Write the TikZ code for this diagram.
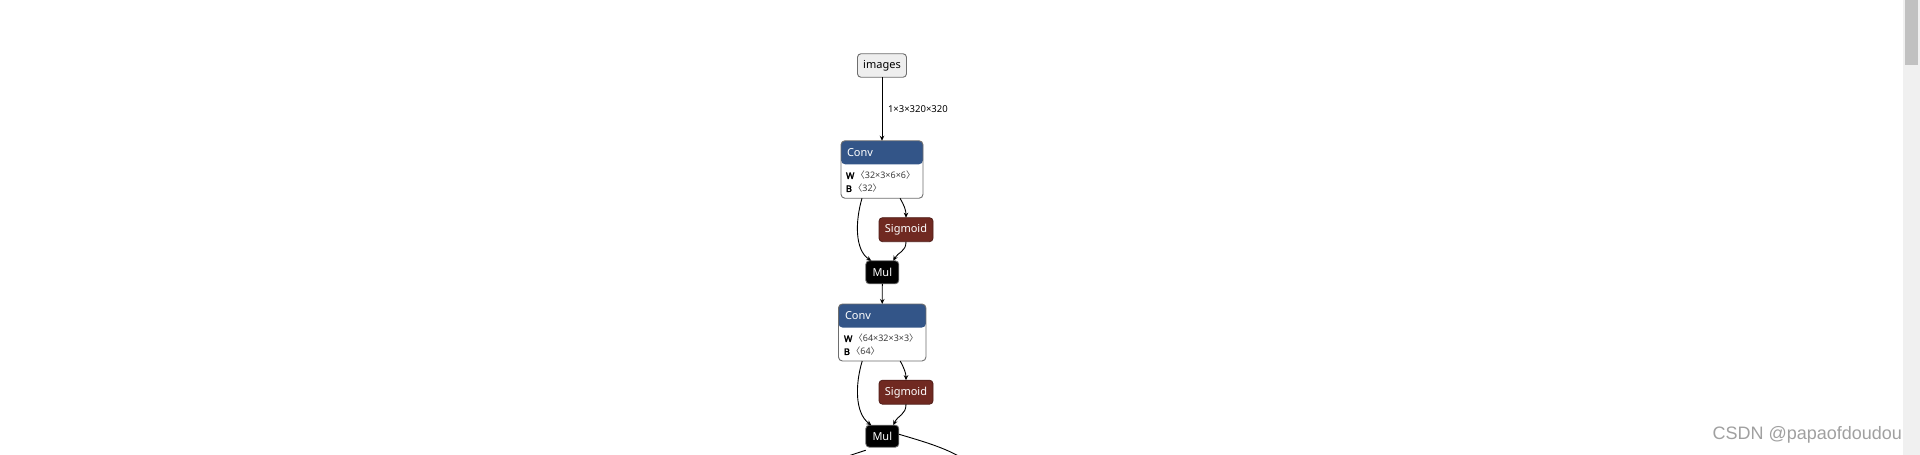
\documentclass[tikz,border=0pt]{standalone}
\usepackage{fontspec}
\setmainfont{Noto Sans}
\newfontfamily\cjkbr{Noto Sans CJK SC}
\newfontfamily\wmfont{Liberation Sans}
\newfontfamily\boldw{Noto Sans}[FakeBold=3]
\usetikzlibrary{arrows.meta}
\definecolor{headblue}{RGB}{51,85,136}
\definecolor{sigred}{RGB}{112,41,33}
\definecolor{sigborder}{RGB}{80,30,25}
\definecolor{boxgray}{RGB}{110,110,110}
\definecolor{valcol}{RGB}{60,60,60}
\definecolor{infill}{RGB}{238,238,238}
\definecolor{track}{RGB}{240,240,240}
\definecolor{thumb}{RGB}{193,193,193}
\definecolor{wmgray}{RGB}{160,160,160}
\tikzset{
  every node/.style={inner sep=0pt, outer sep=0pt},
  inbox/.style={draw=boxgray, line width=0.9pt, fill=infill, rounded corners=3.5pt, minimum width=49pt, minimum height=23.5pt, font=\fontsize{11}{13}\selectfont},
  convbox/.style={draw=boxgray, line width=0.9pt, fill=white, rounded corners=4pt,
    path picture={\fill[headblue] (path picture bounding box.north west) rectangle ([yshift=-23.5pt]path picture bounding box.north east);}},
  sigbox/.style={draw=sigborder, line width=0.8pt, fill=sigred, rounded corners=3.5pt, minimum width=54pt, minimum height=24pt, text=white, font=\fontsize{11}{13}\selectfont},
  mulbox/.style={draw=boxgray, line width=0.8pt, fill=black, rounded corners=3.5pt, minimum width=33pt, minimum height=23pt, text=white, font=\fontsize{11}{13}\selectfont},
  headtxt/.style={anchor=west, text=white, font=\fontsize{11}{13}\selectfont},
  attrtxt/.style={anchor=west, font=\fontsize{9}{11}\selectfont},
  elabel/.style={anchor=west, font=\fontsize{9.5}{11}\selectfont},
  edge/.style={line width=0.9pt, -{Stealth[length=5pt,width=4.5pt]}},
  plain/.style={line width=0.9pt},
}
\newcommand{\attrv}[1]{{\color{valcol}\cjkbr 〈}{\color{valcol}#1}{\color{valcol}\cjkbr 〉}}
\begin{document}
\begin{tikzpicture}[x=1pt,y=-1pt]
\clip (0,0) rectangle (1920,455);
\fill[white] (0,0) rectangle (1920,455);
% scrollbar
\fill[track] (1903,0) rectangle (1920,455);
\fill[thumb] (1905,0) rectangle (1918,65);

% images
\node[inbox] (img) at (882,65.5) {images};
\node[elabel] (lbl) at (888,109) {1×3×320×320};

% Conv 1
\node[convbox, minimum width=82pt, minimum height=57.5pt] (conv1) at (882,169.5) {};
\node[headtxt] (c1h) at (847,152.5) {Conv};
\node[attrtxt] (c1w) at (846,175.5) {{\boldw W}\,\attrv{32×3×6×6}};
\node[attrtxt] (c1b) at (846,188.5) {{\boldw B}\,\attrv{32}};
\node[sigbox] (sig1) at (906,229.7) {Sigmoid};
\node[mulbox] (mul1) at (882.3,272.3) {Mul};

% Conv 2
\node[convbox, minimum width=87.5pt, minimum height=57pt] (conv2) at (882.2,332.5) {};
\node[headtxt] (c2h) at (845,316) {Conv};
\node[attrtxt] (c2w) at (844,338.5) {{\boldw W}\,\attrv{64×32×3×3}};
\node[attrtxt] (c2b) at (844,351.5) {{\boldw B}\,\attrv{64}};
\node[sigbox] (sig2) at (906,392.2) {Sigmoid};
\node[mulbox, minimum height=22pt] (mul2) at (882.3,436.2) {Mul};

\coordinate (outl) at (836,460);
\coordinate (outr) at (968,462);

% edges
\draw[edge] (img.south) -- (conv1.north);
\draw[edge] ([xshift=-20pt]conv1.south) .. controls (855,222) and (855,250) .. ([xshift=-11pt]mul1.north);
\draw[edge] ([xshift=18pt]conv1.south) .. controls (904,205) and (906,210) .. (sig1.north);
\draw[edge] (sig1.south) .. controls (906,252) and (898,252) .. ([xshift=11pt]mul1.north);
\draw[edge] (mul1.south) -- (conv2.north);
\draw[edge] ([xshift=-20pt]conv2.south) .. controls (855,385) and (855,413) .. ([xshift=-11pt]mul2.north);
\draw[edge] ([xshift=18pt]conv2.south) .. controls (904,368) and (906,373) .. (sig2.north);
\draw[edge] (sig2.south) .. controls (906,415) and (898,415) .. ([xshift=11pt]mul2.north);
\draw[plain] ([yshift=-3pt]mul2.south west) -- (outl);
\draw[plain] ([yshift=2pt]mul2.east) .. controls (925,442) and (950,449) .. (outr);

% watermark
\node[anchor=east, text=wmgray, font=\wmfont\fontsize{18}{20}\selectfont] (wm) at (1902,435) {CSDN @papaofdoudou};
\end{tikzpicture}
\end{document}
